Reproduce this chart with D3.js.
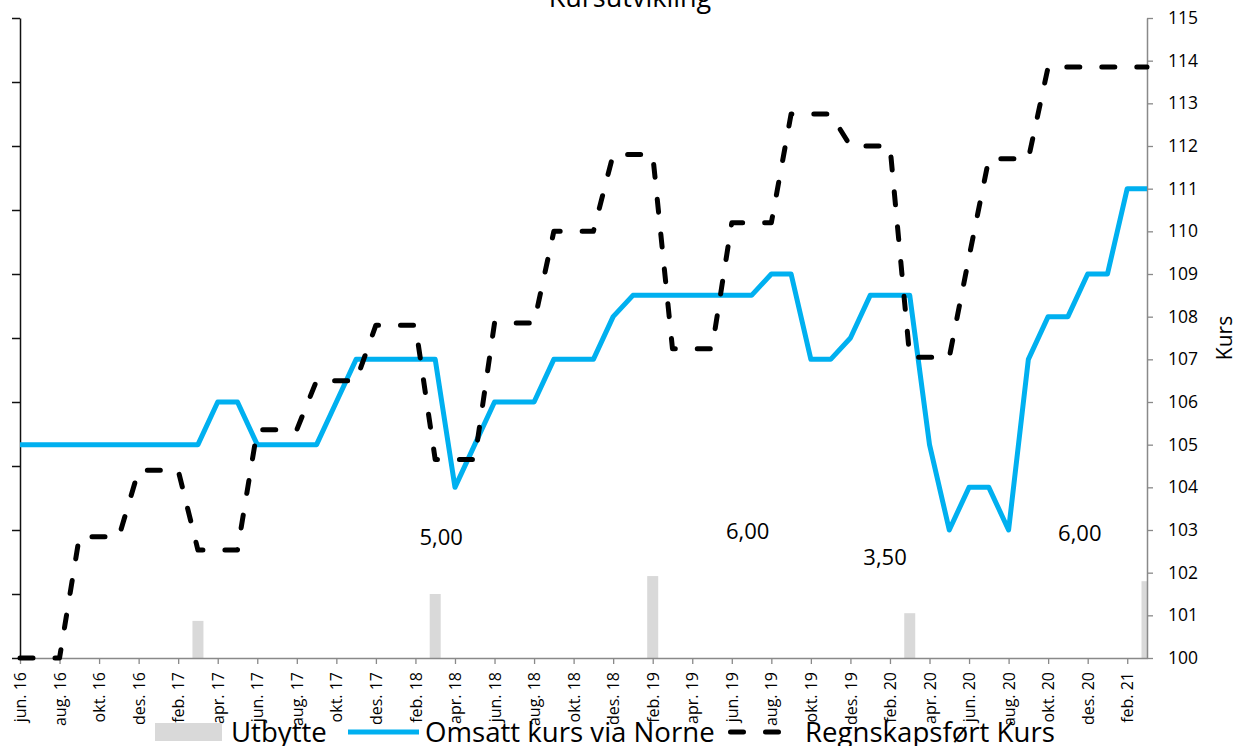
<!DOCTYPE html>
<html><head><meta charset="utf-8">
<script src="https://cdn.jsdelivr.net/npm/d3@7"></script>
<style>html,body{margin:0;padding:0;background:#fff;} svg{display:block;font-family:"Open Sans",sans-serif;}</style>
</head><body>
<svg id="chart" width="1237" height="746"></svg>
<script>
const months = ["jun. 16","jul. 16","aug. 16","sep. 16","okt. 16","nov. 16","des. 16",
"jan. 17","feb. 17","mar. 17","apr. 17","mai. 17","jun. 17","jul. 17","aug. 17","sep. 17","okt. 17","nov. 17","des. 17",
"jan. 18","feb. 18","mar. 18","apr. 18","mai. 18","jun. 18","jul. 18","aug. 18","sep. 18","okt. 18","nov. 18","des. 18",
"jan. 19","feb. 19","mar. 19","apr. 19","mai. 19","jun. 19","jul. 19","aug. 19","sep. 19","okt. 19","nov. 19","des. 19",
"jan. 20","feb. 20","mar. 20","apr. 20","mai. 20","jun. 20","jul. 20","aug. 20","sep. 20","okt. 20","nov. 20","des. 20",
"jan. 21","feb. 21","mar. 21"];
const tickLabels = ["jun. 16","aug. 16","okt. 16","des. 16","feb. 17","apr. 17","jun. 17","aug. 17","okt. 17","des. 17",
"feb. 18","apr. 18","jun. 18","aug. 18","okt. 18","des. 18","feb. 19","apr. 19","jun. 19","aug. 19","okt. 19","des. 19",
"feb. 20","apr. 20","jun. 20","aug. 20","okt. 20","des. 20","feb. 21"];
const omsattKurs = [105,105,105,105,105,105,105,
105,105,105,106,106,105,105,105,105,106,107,107,
107,107,107,104,105,106,106,106,107,107,107,108,
108.5,108.5,108.5,108.5,108.5,108.5,108.5,109,109,107,107,107.5,
108.5,108.5,108.5,105,103,104,104,103,107,108,108,109,
109,111,111];
const regnskapKurs = [100,100,100,102.84,102.84,102.84,104.4,
104.4,104.4,102.53,102.53,102.53,105.35,105.35,105.35,106.5,106.5,106.5,107.8,
107.8,107.8,104.65,104.65,104.65,107.85,107.85,107.85,110,110,110,111.8,
111.8,111.8,107.25,107.25,107.25,110.2,110.2,110.2,112.75,112.75,112.75,112,
112,112,107.05,107.05,107.05,109.4,111.7,111.7,111.7,113.85,113.85,113.85,
113.85,113.85,113.85];
const dividendMonths = ["mar. 17","mar. 18","feb. 19","mar. 20","mar. 21"];
const dividendValues = [2.9,5.0,6.4,3.5,6.0];
const noteTexts = ["5,00","6,00","3,50","6,00"];
const noteMonthPos = [21.3,36.8,43.75,53.6];
const noteValues = [8.83,9.3,7.27,9.14];
const rightTicks = [100,101,102,103,104,105,106,107,108,109,110,111,112,113,114,115];
const leftTicks = [0,5,10,15,20,25,30,35,40,45,50];
const seriesNames = ["Utbytte","Omsatt kurs via Norne","Regnskapsført Kurs"];

const svg = d3.select("#chart");
const L = 20, R = 1147, T = 18, B = 658;
const x = d3.scaleLinear().domain([0, months.length-1]).range([L, R]);
const yR = d3.scaleLinear().domain([100,115]).range([B, T]);
const yL = d3.scaleLinear().domain([0,50]).range([B, T]);

svg.append("rect").attr("width",1237).attr("height",746).attr("fill","#fff");

// title (cut at top edge as in the reference)
svg.append("text").attr("x",630).attr("y",7).attr("text-anchor","middle")
  .attr("font-size",27).attr("fill","#000").text("Kursutvikling");

svg.append("defs").append("clipPath").attr("id","plotclip")
  .append("rect").attr("x",L).attr("y",0).attr("width",R-L).attr("height",B+10);

// bars
const barW = 11;
svg.append("g").attr("clip-path","url(#plotclip)").selectAll("rect")
  .data(dividendMonths.map((m,i)=>({i:months.indexOf(m), v:dividendValues[i]})))
  .join("rect")
  .attr("x",d=>x(d.i)-barW/2).attr("width",barW)
  .attr("y",d=>yL(d.v)).attr("height",d=>B-yL(d.v))
  .attr("fill","#D9D9D9");

// x axis
const xAxis = d3.axisBottom(x)
  .tickValues(tickLabels.map(t=>months.indexOf(t)))
  .tickFormat(i=>months[i]).tickSize(6).tickSizeOuter(0);
const gx = svg.append("g").attr("transform",`translate(0,${B})`).call(xAxis);
gx.select(".domain").attr("stroke","#898989").attr("stroke-width",1.5);
gx.selectAll(".tick line").attr("stroke","#898989").attr("stroke-width",1.3);
gx.selectAll(".tick text").attr("transform","rotate(-90)")
  .attr("x",-14).attr("y",0).attr("dy","0.35em").attr("text-anchor","end")
  .attr("font-size",16).attr("font-family","Open Sans").attr("fill","#000");

// left axis
const gl = svg.append("g").attr("transform",`translate(${L},0)`)
  .call(d3.axisLeft(yL).tickValues(leftTicks).tickFormat("").tickSize(8).tickSizeOuter(0));
gl.select(".domain").attr("stroke","#111").attr("stroke-width",1.5);
gl.selectAll(".tick line").attr("stroke","#111").attr("stroke-width",1.5);

// right axis
const gr = svg.append("g").attr("transform",`translate(${R},0)`)
  .call(d3.axisRight(yR).tickValues(rightTicks).tickFormat(d3.format("d")).tickSize(6).tickPadding(15).tickSizeOuter(0));
gr.select(".domain").attr("stroke","#898989").attr("stroke-width",1.5);
gr.selectAll(".tick line").attr("stroke","#898989").attr("stroke-width",1.3);
gr.selectAll(".tick text").attr("font-size",17.5).attr("font-family","Open Sans").attr("fill","#000");

svg.append("text").attr("transform","translate(1232,338) rotate(-90)")
  .attr("text-anchor","middle").attr("font-size",21).attr("fill","#000").text("Kurs");

// lines
const line = d3.line().x((d,i)=>x(i)).y(d=>yR(d));
svg.append("path").datum(omsattKurs).attr("d",line)
  .attr("fill","none").attr("stroke","#00B0F0").attr("stroke-width",5)
  .attr("stroke-linejoin","round");
svg.append("path").datum(regnskapKurs).attr("d",line)
  .attr("fill","none").attr("stroke","#000").attr("stroke-width",5)
  .attr("stroke-linecap","round").attr("stroke-linejoin","round")
  .attr("stroke-dasharray","13,22");

// notes
svg.append("g").selectAll("text").data(noteTexts).join("text")
  .attr("x",(d,i)=>x(noteMonthPos[i])).attr("y",(d,i)=>yL(noteValues[i]))
  .attr("text-anchor","middle").attr("font-size",22).attr("fill","#000").text(d=>d);

// legend (cut at bottom edge as in the reference)
const lg = svg.append("g");
lg.append("rect").attr("x",155).attr("y",723).attr("width",67).attr("height",18).attr("fill","#D9D9D9");
lg.append("text").attr("x",231).attr("y",742).attr("font-size",27.6).attr("fill","#000").text(seriesNames[0]);
lg.append("line").attr("x1",348).attr("x2",419).attr("y1",732).attr("y2",732)
  .attr("stroke","#00B0F0").attr("stroke-width",5);
lg.append("text").attr("x",425).attr("y",742).attr("font-size",27.6).attr("fill","#000").text(seriesNames[1]);
lg.append("line").attr("x1",730.5).attr("x2",781).attr("y1",732).attr("y2",732)
  .attr("stroke","#000").attr("stroke-width",5).attr("stroke-linecap","round").attr("stroke-dasharray","13,22");
lg.append("text").attr("x",805).attr("y",742).attr("font-size",27.6).attr("fill","#000").text(seriesNames[2]);
</script>
</body></html>
